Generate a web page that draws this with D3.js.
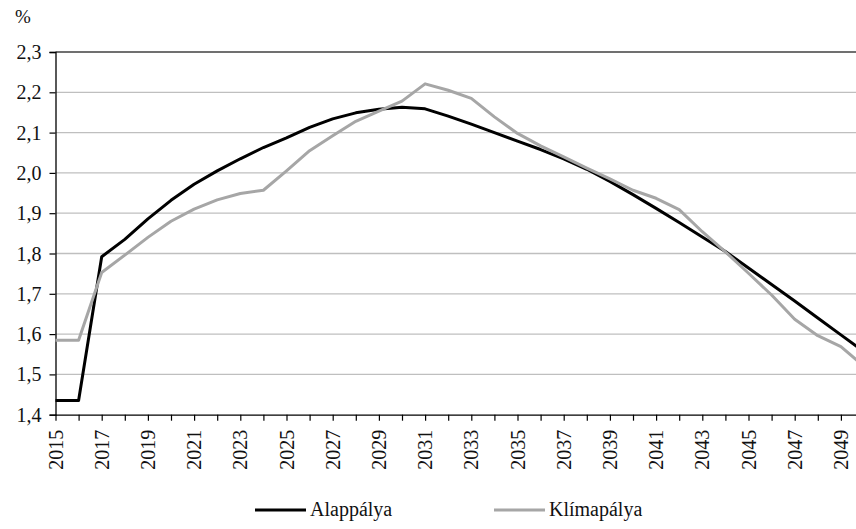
<!DOCTYPE html>
<html>
<head>
<meta charset="utf-8">
<script src="https://cdn.jsdelivr.net/npm/d3@7"></script>
<style>
  html, body { margin: 0; padding: 0; background: #fff; }
  svg { display: block; }
</style>
</head>
<body>
<svg id="chart" width="856" height="529"></svg>
<script>
// Years on the horizontal axis
const years = d3.range(2015, 2051);

// Alappálya (baseline path), %
const alappalya = [
  1.435, 1.435, 1.792, 1.835, 1.886, 1.932, 1.972, 2.005, 2.035, 2.063,
  2.087, 2.113, 2.134, 2.149, 2.158, 2.163, 2.159, 2.141, 2.121, 2.100,
  2.079, 2.058, 2.035, 2.009, 1.979, 1.946, 1.912, 1.877, 1.841, 1.805,
  1.764, 1.723, 1.682, 1.640, 1.598, 1.556
];

// Klímapálya (climate path), %
const klimapalya = [
  1.585, 1.585, 1.753, 1.796, 1.840, 1.880, 1.910, 1.933, 1.949, 1.957,
  2.005, 2.055, 2.092, 2.128, 2.153, 2.178, 2.221, 2.205, 2.185, 2.139,
  2.098, 2.067, 2.040, 2.012, 1.985, 1.957, 1.937, 1.909, 1.854, 1.804,
  1.751, 1.697, 1.637, 1.596, 1.569, 1.520
];

const yTicks = [1.4, 1.5, 1.6, 1.7, 1.8, 1.9, 2.0, 2.1, 2.2, 2.3];
const xLabelYears = d3.range(2015, 2050, 2);

const seriesNames = ["Alappálya", "Klímapálya"];
const seriesColors = ["#000000", "#a6a6a6"];

const svg = d3.select("#chart");
const plotLeft = 55.5, plotTop = 52, plotBottom = 414.7;
const stepPerYear = 23.1;
const plotRight = plotLeft + stepPerYear * (years[years.length - 1] - years[0]);
const fontName = "Liberation Serif";

const x = d3.scaleLinear().domain([2015, 2050]).range([plotLeft, plotRight]);
const y = d3.scaleLinear().domain([1.4, 2.3]).range([plotBottom, plotTop]);
const fmt = v => d3.format(".1f")(v).replace(".", ",");

// Plain text helper drawn in the serif face
function label(parent, px, py, str, size) {
  return parent.append("text")
    .attr("x", px).attr("y", py)
    .style("font-family", `'${fontName}'`)
    .attr("font-size", size)
    .attr("fill", "#111")
    .text(str);
}

// Horizontal gridlines
svg.append("g")
  .selectAll("line")
  .data(yTicks.filter(v => v > 1.4 && v < 2.3))
  .join("line")
  .attr("x1", plotLeft).attr("x2", plotRight)
  .attr("y1", d => y(d)).attr("y2", d => y(d))
  .attr("stroke", "#bfbfbf").attr("stroke-width", 1.3);

// Top border line at 2,3
svg.append("line")
  .attr("x1", plotLeft).attr("x2", plotRight)
  .attr("y1", y(2.3)).attr("y2", y(2.3))
  .attr("stroke", "#404040").attr("stroke-width", 1.3);

// Y axis: line and tick marks from d3, labels drawn separately
const yAxis = svg.append("g")
  .attr("transform", `translate(${plotLeft},0)`)
  .call(d3.axisLeft(y).tickValues(yTicks).tickFormat("").tickSize(6));
yAxis.select(".domain").attr("stroke", "#000").attr("stroke-width", 1.3);
yAxis.selectAll(".tick line").attr("stroke", "#000").attr("stroke-width", 1.2);
const yLabels = svg.append("g");
yTicks.forEach(v => {
  label(yLabels, plotLeft - 14, y(v) + 7, fmt(v), 20).attr("text-anchor", "end");
});

// X axis: tick at every year, labels every second year
const xAxis = svg.append("g")
  .attr("transform", `translate(0,${plotBottom})`)
  .call(d3.axisBottom(x).tickValues(years).tickSize(6).tickFormat(""));
xAxis.select(".domain").attr("stroke", "#000").attr("stroke-width", 1.3)
  .attr("d", `M${plotLeft},0.5H${plotRight}`);
xAxis.selectAll(".tick line").attr("stroke", "#000").attr("stroke-width", 1.2);
const xLabels = svg.append("g");
xLabelYears.forEach(yr => {
  label(xLabels, 0, 0, String(yr), 20)
    .attr("text-anchor", "end")
    .attr("transform", `translate(${x(yr) + 7},${plotBottom + 15}) rotate(-90)`);
});

// Unit label
label(svg, 23, 23, "%", 19).attr("text-anchor", "middle");

// Series lines
const line = d3.line()
  .x((d, i) => x(years[i]))
  .y(d => y(d));

[alappalya, klimapalya].forEach((vals, k) => {
  svg.append("path")
    .datum(vals)
    .attr("fill", "none")
    .attr("stroke", seriesColors[k])
    .attr("stroke-width", 3)
    .attr("stroke-linejoin", "round")
    .attr("d", line);
});

// Legend
const legendX = [255, 494];
const legend = svg.append("g");
seriesNames.forEach((name, k) => {
  legend.append("line")
    .attr("x1", legendX[k]).attr("x2", legendX[k] + 51)
    .attr("y1", 510).attr("y2", 510)
    .attr("stroke", seriesColors[k]).attr("stroke-width", 3);
  label(legend, legendX[k] + 55, 516, name, 20);
});
</script>
</body>
</html>
